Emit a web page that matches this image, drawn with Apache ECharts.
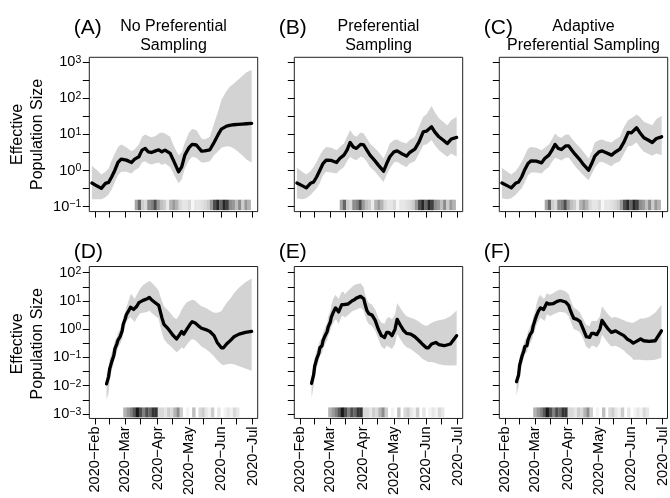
<!DOCTYPE html>
<html><head><meta charset="utf-8">
<script src="https://cdn.jsdelivr.net/npm/echarts@6/dist/echarts.min.js"></script>
<style>html,body{margin:0;padding:0;background:#fff}#c{width:670px;height:498px}</style>
</head><body><div id="c"></div>
<script>
// ---------------- data ----------------
const topDates = ['2020-01-29','2020-02-03','2020-02-07','2020-02-11','2020-02-14','2020-02-17','2020-02-20','2020-02-23','2020-02-26','2020-03-02','2020-03-07','2020-03-10','2020-03-14','2020-03-17','2020-03-20','2020-03-23','2020-03-26','2020-03-30','2020-04-02','2020-04-05','2020-04-08','2020-04-13','2020-04-16','2020-04-21','2020-04-24','2020-04-27','2020-05-01','2020-05-04','2020-05-08','2020-05-13','2020-05-16','2020-05-21','2020-05-25','2020-05-29','2020-06-01','2020-06-06','2020-06-09','2020-06-13','2020-06-17','2020-06-21','2020-06-25','2020-06-30'];
const bottomDates = ['2020-02-12','2020-02-14','2020-02-15','2020-02-17','2020-02-19','2020-02-20','2020-02-22','2020-02-23','2020-02-25','2020-02-27','2020-02-28','2020-03-01','2020-03-02','2020-03-04','2020-03-06','2020-03-07','2020-03-09','2020-03-10','2020-03-12','2020-03-14','2020-03-15','2020-03-18','2020-03-22','2020-03-24','2020-03-26','2020-03-30','2020-04-02','2020-04-03','2020-04-05','2020-04-07','2020-04-10','2020-04-13','2020-04-16','2020-04-19','2020-04-22','2020-04-24','2020-04-26','2020-04-29','2020-05-02','2020-05-04','2020-05-07','2020-05-10','2020-05-13','2020-05-17','2020-05-21','2020-05-25','2020-05-28','2020-06-01','2020-06-03','2020-06-06','2020-06-10','2020-06-13','2020-06-18','2020-06-24','2020-06-30'];

const medA = [0.45,0.37,0.32,0.44,0.47,0.67,1.02,1.67,2.07,1.94,1.67,2.07,2.4,3.67,4.1,3.3,3.16,3.5,3.75,3.3,3.67,2.97,1.94,0.92,1.26,2.67,4.3,5.3,5.1,3.44,3.5,3.75,6.0,10,14.1,17,17.8,18.6,19,19.4,19.8,20.2];
const upA  = [1.35,1.02,0.77,0.92,1.14,1.94,2.97,4.5,5.3,4.4,3.44,3.9,5.3,8.6,10,9.0,8.3,9.0,10.7,11.4,10.7,8.6,5.1,2.67,3.16,6.0,11.4,14.1,13.2,7.7,7.3,8.6,20.2,44,90,160,211,261,330,417,528,612];
const loA  = [0.16,0.16,0.16,0.18,0.22,0.30,0.48,0.74,0.92,0.92,0.83,1.02,1.19,1.67,1.82,1.56,1.47,1.6,1.67,1.41,1.56,1.26,0.83,0.44,0.57,1.14,1.94,2.4,2.25,1.67,1.67,1.82,2.67,3.44,4.3,4.7,4.6,4.1,3.3,2.67,2.02,1.67];

const medB = [0.45,0.38,0.33,0.44,0.48,0.67,1.02,1.56,1.94,1.9,1.67,2.15,2.67,3.67,6.0,4.5,4.1,5.3,5.1,3.67,2.67,1.82,1.41,0.96,1.56,2.4,3.3,3.5,2.97,2.5,3.16,3.9,6.2,11.8,12.3,16.3,11.8,8.6,7.0,5.6,7.5,8.3];
const upB  = [1.2,0.92,0.77,0.96,1.26,1.74,2.67,3.67,4.5,4.3,3.67,4.5,5.6,8.6,13.2,9.6,8.6,11.4,10.7,7.7,5.6,4.1,3.3,2.15,3.3,5.6,7.0,7.3,6.2,5.6,7.0,8.6,16.3,31,36,62,42,28,22.5,18,25,31];
const loB  = [0.17,0.16,0.17,0.21,0.26,0.32,0.46,0.74,0.92,0.88,0.83,1.02,1.26,1.82,2.4,2.07,1.94,2.4,2.25,1.74,1.26,0.92,0.71,0.48,0.77,1.14,1.67,1.74,1.47,1.26,1.56,1.82,2.97,5.1,5.3,7.0,5.1,3.67,2.97,2.4,2.97,2.4];

const medC = [0.45,0.38,0.33,0.44,0.48,0.67,1.07,1.56,1.86,1.82,1.63,2.15,2.67,3.67,5.3,4.1,3.83,4.8,4.8,3.67,2.84,1.94,1.47,1.02,1.56,2.5,3.3,3.5,3.1,2.67,3.16,3.9,6.2,11.4,11.1,15.3,11.4,8.1,7.0,6.0,7.7,8.6];
const upC  = [1.2,0.92,0.77,0.96,1.26,1.74,2.67,4.1,4.5,4.3,3.67,4.3,5.3,7.4,10.7,8.6,8.1,10,10,7.7,6.0,4.3,3.3,2.15,3.3,6.0,7.0,7.3,6.5,6.0,7.0,8.6,16.3,25,28,36,31,22.5,20,18,27,33];
const loC  = [0.17,0.16,0.17,0.21,0.26,0.32,0.48,0.74,0.88,0.88,0.83,1.02,1.26,1.74,2.25,2.07,1.9,2.25,2.25,1.74,1.32,0.92,0.74,0.54,0.79,1.19,1.67,1.74,1.53,1.32,1.56,1.82,2.97,4.8,4.8,6.0,4.5,3.3,2.9,2.55,2.97,2.67];

const medD = [0.0116,0.021,0.039,0.071,0.118,0.20,0.31,0.41,0.54,0.875,1.49,2.4,3.3,4.35,6.0,6.2,5.0,4.5,6.5,8.7,10.2,10.5,12,13.3,11.1,8.5,7.0,5.0,2.55,1.49,1.14,0.83,0.59,0.45,0.64,0.83,0.67,1.0,1.49,1.85,1.66,1.31,1.08,0.97,0.83,0.59,0.34,0.22,0.22,0.30,0.41,0.54,0.67,0.77,0.83];
const upD  = [0.024,0.04,0.085,0.15,0.25,0.40,0.55,0.75,1.0,1.6,2.6,4.0,6.0,9.7,16.5,17.4,13.3,12,16.5,22.8,26.7,36.8,45.6,50.7,45.6,32,22.8,16.5,10.2,6.5,5.0,3.8,2.7,2.23,3.3,5.0,6.5,9.2,10.2,11.1,10.2,7.8,6.5,5.7,4.6,3.8,3.8,4.35,5.7,8.5,12.6,18.9,29.7,45.6,62.8];
const loD  = [0.0032,0.0055,0.016,0.035,0.065,0.105,0.16,0.22,0.30,0.45,0.80,1.3,1.8,2.3,2.6,2.4,2.0,1.8,2.5,3.2,3.6,3.8,4.1,4.6,3.8,2.9,2.4,1.49,0.77,0.45,0.32,0.26,0.20,0.154,0.186,0.23,0.20,0.285,0.39,0.45,0.41,0.32,0.243,0.20,0.154,0.109,0.079,0.057,0.053,0.057,0.060,0.057,0.049,0.041,0.034];

const medE = [0.012,0.024,0.049,0.090,0.14,0.22,0.26,0.39,0.59,0.83,1.2,1.8,2.7,4.1,5.7,5.4,4.1,5.0,7.4,7.4,6.3,7.8,10.2,11.1,12.6,14.5,12,8.5,4.6,3.5,3.15,2.06,1.0,0.59,0.51,0.77,0.77,0.59,1.0,2.23,1.41,0.92,0.71,0.67,0.54,0.39,0.30,0.22,0.22,0.30,0.34,0.285,0.26,0.30,0.59];
const upE  = [0.021,0.049,0.098,0.176,0.285,0.39,0.51,0.77,1.14,1.7,2.9,4.35,7.4,12.6,16.5,14.5,12,14.5,21.6,20.5,17.4,22.8,32,36.8,38.8,42,29.7,18.9,11.1,8.5,7.4,5.0,2.55,1.7,1.57,2.4,2.7,2.23,3.3,8.5,5.7,3.8,2.9,2.55,2.23,1.85,1.49,1.31,1.41,1.7,1.95,2.06,2.23,2.9,4.6];
const loE  = [0.0037,0.0093,0.021,0.046,0.079,0.118,0.14,0.20,0.30,0.41,0.59,0.875,1.2,1.7,2.23,2.06,1.49,1.95,2.9,2.9,2.55,3.15,4.35,4.6,5.0,5.7,4.6,3.3,1.95,1.49,1.31,0.875,0.45,0.24,0.20,0.26,0.24,0.20,0.30,0.67,0.45,0.30,0.23,0.20,0.154,0.118,0.090,0.075,0.069,0.069,0.064,0.057,0.053,0.052,0.053];

const medF = [0.0139,0.024,0.053,0.103,0.167,0.243,0.26,0.41,0.64,0.83,1.31,2.23,2.9,4.35,5.7,5.7,5.0,4.6,8.5,7.8,7.0,8.0,9.7,10.2,10.2,9.2,7.0,5.4,3.5,2.4,2.23,1.85,1.0,0.54,0.51,0.71,0.71,0.64,1.0,2.06,1.41,1.0,0.77,0.875,0.71,0.59,0.45,0.37,0.32,0.37,0.45,0.39,0.37,0.39,0.875];
const upF  = [0.021,0.049,0.103,0.20,0.30,0.41,0.54,0.83,1.2,1.7,2.7,4.35,7.4,13.3,16.5,14.5,12,12.6,18.9,17.4,16.5,18.9,22.8,24.7,24.7,21.6,17.4,13.3,8.5,5.7,5.0,3.8,2.23,1.41,1.31,1.95,1.95,1.95,2.9,6.5,4.6,3.3,2.55,2.7,2.4,2.06,1.85,1.7,1.7,1.95,2.4,2.4,2.7,3.8,7.4];
const loF  = [0.0044,0.0098,0.024,0.053,0.090,0.135,0.154,0.22,0.32,0.44,0.64,1.0,1.38,1.95,2.55,2.4,2.06,1.95,3.3,3.15,2.9,3.3,3.8,4.1,4.1,3.8,2.9,2.23,1.49,1.0,0.92,0.77,0.45,0.24,0.20,0.26,0.26,0.22,0.32,0.64,0.45,0.32,0.243,0.26,0.22,0.176,0.135,0.103,0.083,0.083,0.083,0.079,0.079,0.083,0.098];

// sampling intensity strips (darkness 0..1 per 3-day bin)
const topStripStart = '2020-03-10';
const bottomStripStart = '2020-02-28';
const stripBinDays = 3;
const topStrip = [0.35,0.6,0.2,0.15,0.45,0.5,0.7,0.4,0.25,0.2,0.08,0.3,0.4,0.3,0.15,0.1,0.1,0.15,0.03,0.1,0.1,0.12,0.15,0.2,0.4,0.7,0.85,0.6,0.85,0.75,0.45,0.4,0.25,0.45,0.2,0.4,0.3];
const bottomStrip = [0.3,0.4,0.5,0.65,0.9,0.7,0.5,0.7,0.6,0.8,0.8,0.15,0.15,0.1,0.2,0.15,0.3,0.45,0.2,0,0.05,0,0.25,0,0.15,0.2,0.1,0.05,0.2,0,0.1,0,0.05,0.1,0.05,0.15,0.1];

// ticks
const monthTicks = ['2020-02-01','2020-03-01','2020-04-01','2020-05-01','2020-06-01','2020-07-01'];
const monthLabels = ['2020\u2212Feb','2020\u2212Mar','2020\u2212Apr','2020\u2212May','2020\u2212Jun','2020\u2212Jul'];
const midMonthTicks = ['2020-02-15','2020-03-15','2020-04-15','2020-05-15','2020-06-15'];
const topYLabels = [0.1, 1, 10, 100, 1000];
const bottomYLabels = [0.001, 0.01, 0.1, 1, 10, 100];

const panelTags = ['(A)','(B)','(C)','(D)','(E)','(F)'];
const panelTitles = ['No Preferential\nSampling','Preferential\nSampling','Adaptive\nPreferential Sampling','','',''];
const yTitle = 'Effective\nPopulation Size';

// ---------------- build ----------------
const FONT = '"Liberation Sans", Arial, Helvetica, sans-serif';
function ts(s){const p=s.split('-');return Date.UTC(+p[0],+p[1]-1,+p[2]);}
const DAY = 86400000;
const xMin = ts('2020-02-01') - 5.5*DAY, xMax = ts('2020-07-01') + 4.8*DAY;
const colLeft = [89.3, 294.3, 499.3], colW = 168.4;
const rowTop = [57.3, 266.5], rowH = [154.3, 154.6];
const yExp = [[-1.14, 3.14], [-3.16, 2.22]];
const stripExp = [[-1.10, -0.81], [-3.12, -2.77]];

const series = [[medA,upA,loA],[medB,upB,loB],[medC,upC,loC],[medD,upD,loD],[medE,upE,loE],[medF,upF,loF]];
const grids=[], xAxes=[], yAxes=[], ser=[], graphics=[];
const monthVals = monthTicks.map(ts);
const xTickVals = monthTicks.concat(midMonthTicks).map(ts).sort((a,b)=>a-b);

function supLabel(v){
  const e = Math.round(Math.log10(v));
  return '{b|10}{s|' + (e < 0 ? '\u2212' + (-e) : e) + '}';
}

for (let i=0;i<6;i++){
  const row = i<3?0:1, col = i%3;
  const dates = (row===0?topDates:bottomDates).map(ts);
  const [med, up, lo] = series[i];
  const yl = row===0?topYLabels:bottomYLabels;
  const yTicks = [];
  yl.forEach((v,k)=>{ yTicks.push(v); if (k<yl.length-1) yTicks.push(Math.sqrt(v*yl[k+1])); });
  grids.push({left:colLeft[col], top:rowTop[row], width:colW, height:rowH[row], show:true, borderColor:'#222', borderWidth:1, backgroundColor:'#fff'});
  xAxes.push({type:'value', gridIndex:i, min:xMin, max:xMax, scale:true,
    axisLine:{show:false}, splitLine:{show:false},
    axisTick:{show:true, inside:false, length:6, lineStyle:{color:'#000', width:1}, customValues:xTickVals},
    axisLabel:{show:row===1, customValues:monthVals, rotate:90, margin:8, fontSize:14.6, fontFamily:FONT, color:'#000',
      formatter:(v)=>{let k=-1; monthVals.forEach((m,j)=>{ if (Math.abs(m-v)<3600000) k=j; }); return k>=0?monthLabels[k]:'';}}
  });
  yAxes.push({type:'log', logBase:10, gridIndex:i, min:Math.pow(10,yExp[row][0]), max:Math.pow(10,yExp[row][1]),
    axisLine:{show:false}, splitLine:{show:false},
    axisTick:{show:true, inside:false, length:6.5, lineStyle:{color:'#000', width:1}, customValues:yTicks},
    axisLabel:{show:col===0, customValues:yl, margin:8, formatter:supLabel, color:'#000',
      rich:{b:{fontSize:14.6, fontFamily:FONT, color:'#000', lineHeight:15, verticalAlign:'bottom'},
            s:{fontSize:10.5, fontFamily:FONT, color:'#000', lineHeight:11, verticalAlign:'top', padding:[0,0,7,0]}}}
  });
  // band
  ser.push({type:'custom', xAxisIndex:i, yAxisIndex:i, silent:true, z:1,
    data: dates.map((d,k)=>[d, lo[k], up[k]]), encode:{x:0, y:[1,2]},
    renderItem:(params, api)=>{
      if (params.dataIndex!==0) return;
      const pts=[];
      for (let k=0;k<dates.length;k++) pts.push(api.coord([dates[k], up[k]]));
      for (let k=dates.length-1;k>=0;k--) pts.push(api.coord([dates[k], lo[k]]));
      return {type:'polygon', shape:{points:pts}, style:{fill:'#d3d3d3'}};
    }});
  // strip
  const sArr = row===0?topStrip:bottomStrip;
  const s0 = ts(row===0?topStripStart:bottomStripStart);
  const yb = Math.pow(10, stripExp[row][0]), yt = Math.pow(10, stripExp[row][1]);
  ser.push({type:'custom', xAxisIndex:i, yAxisIndex:i, silent:true, z:2,
    data: sArr.map((s,k)=>[s0 + k*stripBinDays*DAY, s0 + (k+1)*stripBinDays*DAY, yb, yt, s]),
    encode:{x:[0,1], y:[2,3]},
    renderItem:(params, api)=>{
      const s = api.value(4); if (s<=0.01) return;
      const p0 = api.coord([api.value(0), api.value(3)]);
      const p1 = api.coord([api.value(1), api.value(2)]);
      const g = Math.round(255*(1-s));
      return {type:'rect', shape:{x:p0[0], y:p0[1], width:p1[0]-p0[0]+0.3, height:p1[1]-p0[1]}, style:{fill:'rgb('+g+','+g+','+g+')'}};
    }});
  // median
  ser.push({type:'line', xAxisIndex:i, yAxisIndex:i, z:3, silent:true, showSymbol:false, symbol:'none',
    data: dates.map((d,k)=>[d, med[k]]),
    lineStyle:{color:'#000', width:3.3, join:'round', cap:'round'}});

  // texts
  graphics.push({type:'text', x:colLeft[col]-15.5, y: row===0?28:252,
    style:{text:panelTags[i], fontSize:21, fontFamily:FONT, fill:'#000', textAlign:'left', textVerticalAlign:'middle', align:'left', verticalAlign:'middle'}});
  if (panelTitles[i]) graphics.push({type:'text', x:colLeft[col]+colW/2, y:36.5,
    style:{text:panelTitles[i], fontSize:16, lineHeight:19, fontFamily:FONT, fill:'#000', textAlign:'center', textVerticalAlign:'middle', align:'center', verticalAlign:'middle'}});
  if (col===0) graphics.push({type:'text', x:28, y:rowTop[row]+rowH[row]/2, rotation:Math.PI/2,
    style:{text:yTitle, fontSize:16, lineHeight:20, fontFamily:FONT, fill:'#000', textAlign:'center', textVerticalAlign:'middle', align:'center', verticalAlign:'middle'}});
}

const chart = echarts.init(document.getElementById('c'), null, {renderer:'canvas'});
chart.setOption({animation:false, backgroundColor:'#fff', grid:grids, xAxis:xAxes, yAxis:yAxes, series:ser, graphic:graphics});
</script></body></html>
